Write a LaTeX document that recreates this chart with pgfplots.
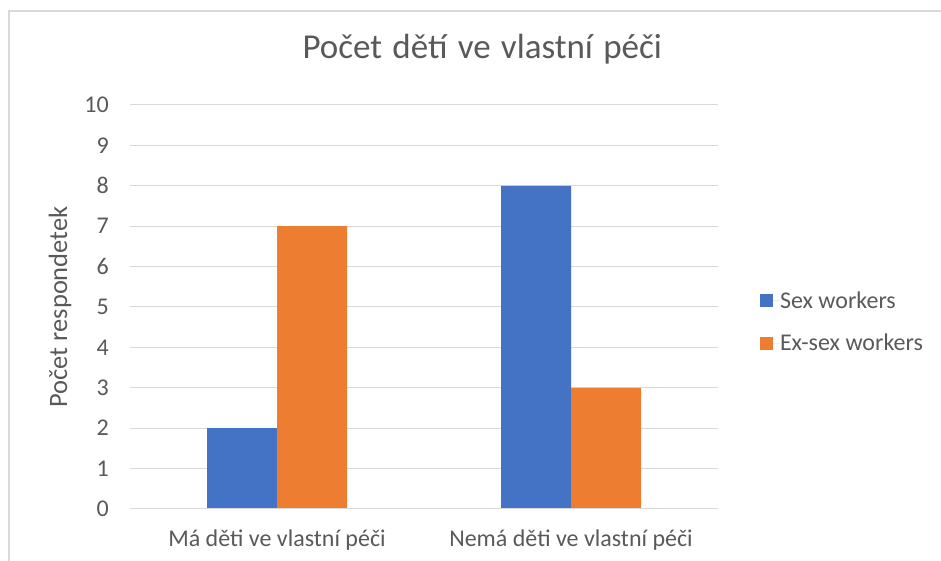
\documentclass[border=0pt]{standalone}
\usepackage{pgfplots}
\pgfplotsset{compat=1.18}
\usepackage{fontspec}
\setmainfont{Carlito}
\newfontfamily\titlefont[WordSpace=1.3]{Carlito}
\definecolor{xblue}{HTML}{4472C4}
\definecolor{xorange}{HTML}{ED7D31}
\definecolor{xtext}{HTML}{595959}
\definecolor{xgrid}{HTML}{D9D9D9}
\begin{document}
\begin{tikzpicture}
\path[use as bounding box] (0pt,0pt) rectangle (941pt,561pt);
\draw[xgrid, line width=1.5pt] (9pt,0pt) -- (9pt,550pt) -- (941pt,550pt);
\begin{axis}[
  at={(130pt,52pt)}, anchor=south west,
  scale only axis, width=588pt, height=404pt,
  ybar=0pt, bar width=70pt,
  xmin=-0.5, xmax=1.5, ymin=0, ymax=10,
  xtick={0,1}, xticklabels={Má děti ve vlastní péči, Nemá děti ve vlastní péči},
  ytick={0,1,...,10},
  /pgf/number format/assume math mode=true,
  axis line style={draw=none},
  axis x line*=bottom,
  major tick length=0pt,
  ymajorgrids, grid style={xgrid, line width=1pt},
  tick label style={font=\fontsize{24}{28}\selectfont, text=xtext},
  yticklabel style={anchor=east, inner sep=0pt, xshift=-21pt},
  xticklabel style={anchor=base, inner sep=0pt, yshift=-38pt},
  ylabel={Počet respondetek},
  ylabel style={at={(axis description cs:-0.119,0.5)}, anchor=center, font=\fontsize{26.5}{30}\selectfont, text=xtext},
  title={Počet dětí ve vlastní péči},
  title style={at={(axis description cs:0.599,1.099)}, anchor=base, font=\titlefont\fontsize{35}{40}\selectfont, text=xtext},
  legend style={at={(rel axis cs:1.066,0.463)}, anchor=west, draw=none, fill=none,
    font=\fontsize{24}{28}\selectfont, text=xtext, row sep=24pt,
    nodes={inner sep=0pt, inner xsep=0pt}},
  legend cell align=left,
  legend image code/.code={\fill[#1] (0pt,-6.5pt) rectangle (13pt,6.5pt); \path (0pt,0pt) -- (20pt,0pt);},
]
\addplot[fill=xblue, draw=none] coordinates {(0,2) (1,8)};
\addplot[fill=xorange, draw=none] coordinates {(0,7) (1,3)};
\legend{Sex workers, Ex-sex workers}
\draw[xgrid, line width=1pt] (rel axis cs:0,0) -- (rel axis cs:1,0);
\end{axis}
\end{tikzpicture}
\end{document}
